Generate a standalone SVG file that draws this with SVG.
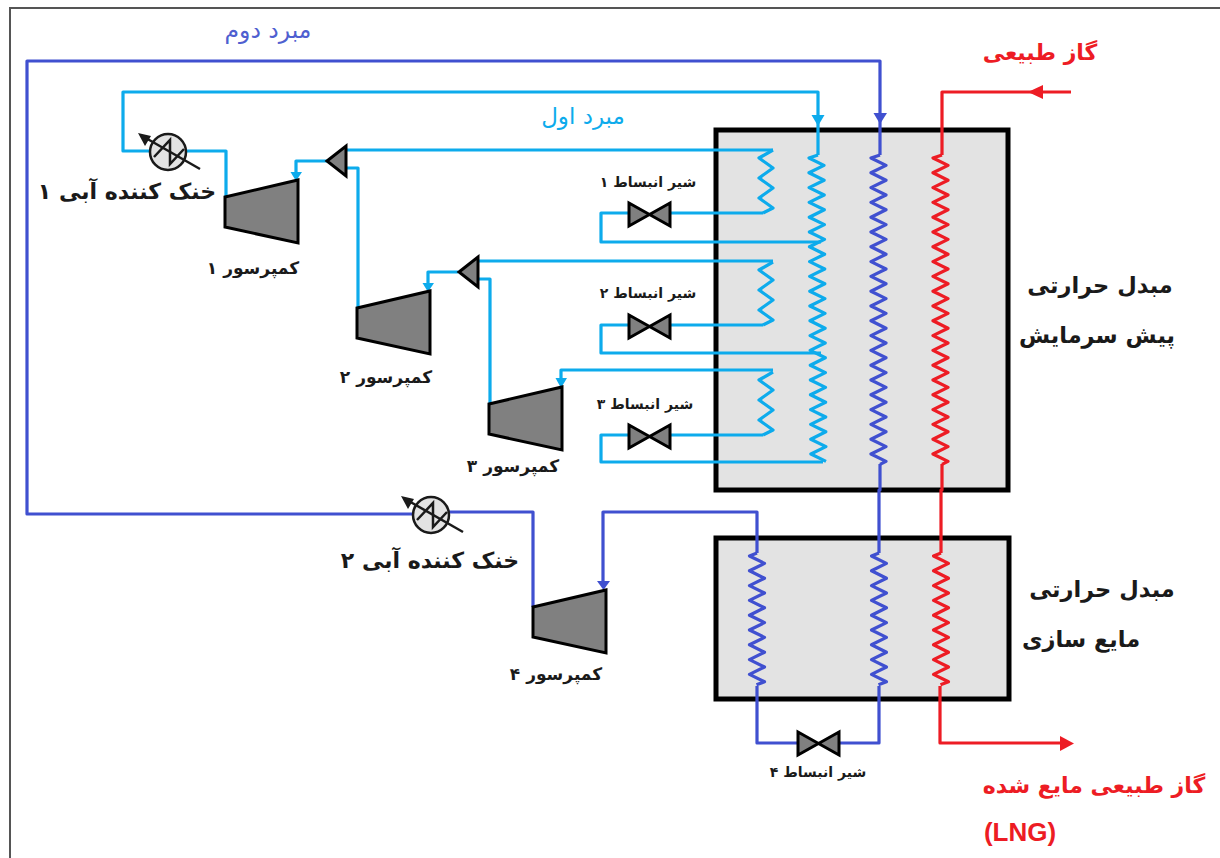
<svg xmlns="http://www.w3.org/2000/svg" xmlns:xlink="http://www.w3.org/1999/xlink" width="1220" height="858" viewBox="0 0 1220 858">
<style>
text{font-family:"DejaVu Sans","Noto Sans",sans-serif;text-anchor:middle;direction:rtl}
.k{font-weight:bold;fill:#1a1a1a}
.c{font-size:17px}.v{font-size:14px}.h{font-size:22px}.e{font-size:22.500px}
.r{font-weight:bold;fill:#ed1c24;font-size:22px}
.p{fill:none;stroke-width:3.200;stroke-linejoin:round}
.lb{stroke:#0dabec}.db{stroke:#4050d0}.rd{stroke:#ed1c24}
.box{fill:#e3e3e3;stroke:#000;stroke-width:5}
.eq{fill:#808080;stroke:#000;stroke-width:3;stroke-linejoin:miter}
.cl{fill:#e3e3e3;stroke:#1a1a1a;stroke-width:2.500}
</style>
<defs>
<path id="m21" d="M0 0l-9 3l15 7.400l-15 7.400l15.100 7.400l-15 7.400l15.100 7.400l-15 7.400l15.100 7.400l-15 7.400l15.100 7.400l-15 7.400l15.100 7.400l-15 7.400l15.100 7.400l-15 7.400l15.100 7.400l-15 7.400l15.100 7.400l-15 7.400l15.100 7.400l-15 7.400l15.100 7.400l-15 7.400l15.100 7.400l-15 7.400l15.100 7.400l-15 7.400l15.100 7.400l-15 7.400l15.100 7.400l-15 7.400l15.100 7.400l-15 7.400l15.100 7.400l-15 7.400l15.100 7.400l-15 7.400l15.100 7.400l-15 7.400l15.100 7.400l-15 7.400l15.100 7.400"/>
<path id="s21" d="M0 0l-9 3l15 7.400l-15 7.400l15 7.400l-15 7.400l15 7.400l-15 7.400l15 7.400l-15 7.400l15 7.400l-15 7.400l15 7.400l-15 7.400l15 7.400l-15 7.400l15 7.400l-15 7.400l15 7.400l-15 7.400l15 7.400l-15 7.400l15 7.400l-15 7.400l15 7.400l-15 7.400l15 7.400l-15 7.400l15 7.400l-15 7.400l15 7.400l-15 7.400l15 7.400l-15 7.400l15 7.400l-15 7.400l15 7.400l-15 7.400l15 7.400l-15 7.400l15 7.400l-15 7.400l15 7.400l-6 3"/>
<path id="s9" d="M0 0l-7.500 3l15 7.400l-15 7.400l15 7.400l-15 7.400l15 7.400l-15 7.400l15 7.400l-15 7.400l15 7.400l-15 7.400l15 7.400l-15 7.400l15 7.400l-15 7.400l15 7.400l-15 7.400l15 7.400l-8 3"/>
<path id="c4" d="M773 0L759 8L773 18L759 28L773 38L759 48L773 58L763 63"/>
<polygon id="comp" points="0,17 73,0 73,63 0,47"/>
<polygon id="valve" points="0,0 41,23 41,0 0,23"/>
<g id="cool">
<path d="M-14 5L2 -12V12L16 -3" fill="none" stroke="#1a1a1a" stroke-width="2.500"/>
<path d="M32 17L-24 -15" fill="none" stroke="#1a1a1a" stroke-width="2.500"/>
<path d="M-30 -19L-17 -16L-23 -6Z" fill="#1a1a1a"/>
</g>
</defs>
<g id="frame"><path d="M10 858V8H1220" fill="none" stroke="#555" stroke-width="2"/></g>
<g id="exchanger-1"><rect class="box" x="716" y="130" width="292" height="360"/></g>
<g id="exchanger-2"><rect class="box" x="716" y="538" width="293" height="161"/></g>
<g id="connectors">
<path class="p db" d="M880 155V61H27V514H415M449 512H533V607"/>
<path class="p db" d="M603 585V512H757V553"/>
<use href="#s9" class="p db" x="757" y="553"/>
<path class="p db" d="M757 686V743H798M839 743H879V686"/>
<use href="#s9" class="p db" x="879" y="553"/>
<path class="p db" d="M880 464V490H879V553"/>
<use href="#s21" class="p db" x="880" y="155"/>
<path class="p lb" d="M818 155V92H123V151H150M186 151H226V197"/>
<use href="#m21" class="p lb" x="818" y="155"/>
<path class="p lb" d="M296 175V161H327M346 150H773"/>
<use href="#c4" class="p lb" y="150"/>
<path class="p lb" d="M763 213H670M629 213H601V242H821"/>
<path class="p lb" d="M346 168H358V308"/>
<path class="p lb" d="M428 285V272H458M478 261H773"/>
<use href="#c4" class="p lb" y="262"/>
<path class="p lb" d="M763 325H670M629 325H601V353H821"/>
<path class="p lb" d="M478 279H490V403"/>
<path class="p lb" d="M561 380V370H773"/>
<use href="#c4" class="p lb" y="372"/>
<path class="p lb" d="M763 435H670M629 435H601V462H823"/>
<path class="p rd" d="M1071 92H942V155"/>
<use href="#s21" class="p rd" x="942" y="155"/>
<path class="p rd" d="M942 464V490H941V553"/>
<use href="#s9" class="p rd" x="941" y="553"/>
<path class="p rd" d="M940 686V743H1062"/>
<g id="arrowheads">
<path d="M811.500 115H824.500L818 126Z" fill="#0dabec"/>
<path d="M873.500 113H887L880 124Z" fill="#4050d0"/>
<path d="M290.500 172H302L296 181Z" fill="#0dabec"/>
<path d="M422.500 283H434L428 292Z" fill="#0dabec"/>
<path d="M555.500 378H567L561 388Z" fill="#0dabec"/>
<path d="M597 581H610L603.500 590Z" fill="#4050d0"/>
<path d="M1043 85V99L1028 92Z" fill="#ed1c24"/>
<path d="M1060 736V751L1074 743.500Z" fill="#ed1c24"/>
</g>
</g>
<g id="compressor-1"><use href="#comp" class="eq" x="225" y="180"/><text class="k c" x="253" y="274">کمپرسور ۱</text></g>
<g id="compressor-2"><use href="#comp" class="eq" x="357" y="291"/><text class="k c" x="386" y="383">کمپرسور ۲</text></g>
<g id="compressor-3"><use href="#comp" class="eq" x="489" y="387"/><text class="k c" x="513" y="472">کمپرسور ۳</text></g>
<g id="compressor-4"><use href="#comp" class="eq" x="533" y="590"/><text class="k c" x="556" y="680">کمپرسور ۴</text></g>
<g id="mixer-1"><polygon class="eq" points="327,161 346,146 346,176"/></g>
<g id="mixer-2"><polygon class="eq" points="459,272 478,257 478,287"/></g>
<g id="valve-1"><use href="#valve" class="eq" x="629" y="203"/><text class="k v" x="648" y="187">شیر انبساط ۱</text></g>
<g id="valve-2"><use href="#valve" class="eq" x="629" y="315"/><text class="k v" x="648" y="298">شیر انبساط ۲</text></g>
<g id="valve-3"><use href="#valve" class="eq" x="629" y="425"/><text class="k v" x="645" y="409">شیر انبساط ۳</text></g>
<g id="valve-4"><use href="#valve" class="eq" x="798" y="732"/><text class="k v" x="818" y="777">شیر انبساط ۴</text></g>
<g id="cooler-1"><circle class="cl" cx="168" cy="152" r="18"/><use href="#cool" x="168" y="152"/><text class="k h" x="127" y="199">خنک کننده آبی ۱</text></g>
<g id="cooler-2"><circle class="cl" cx="431" cy="515" r="18"/><use href="#cool" x="431" y="515"/><text class="k h" x="430" y="568">خنک کننده آبی ۲</text></g>
<g id="labels">
<text x="268" y="38" font-size="23.500" fill="#4f5fd0">مبرد دوم</text>
<text x="583" y="124" font-size="23" fill="#0dabec">مبرد اول</text>
<text class="r" x="1040" y="60">گاز طبیعی</text>
<text class="k e" x="1100" y="293">مبدل حرارتی</text>
<text class="k e" x="1097" y="343">پیش سرمایش</text>
<text class="k e" x="1102" y="597">مبدل حرارتی</text>
<text class="k e" x="1081" y="647">مایع سازی</text>
<text class="r" x="1094" y="793">گاز طبیعی مایع شده</text>
<text class="r" x="1020" y="841" style="font-family:'Liberation Sans',sans-serif;direction:ltr;font-size:26px">(LNG)</text>
</g>
</svg>
